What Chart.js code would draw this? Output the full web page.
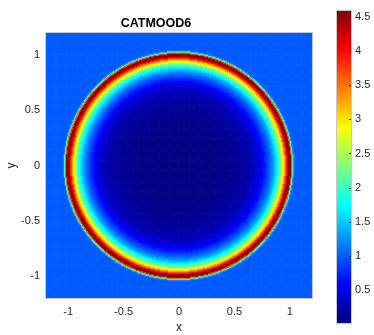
<!DOCTYPE html>
<html>
<head>
<meta charset="utf-8">
<script src="https://cdn.jsdelivr.net/npm/chart.js@4/dist/chart.umd.min.js"></script>
<style>
  html, body { margin: 0; padding: 0; background: #ffffff; }
  #wrap { position: relative; width: 374px; height: 335px; }
  #main { position: absolute; left: 0; top: 0; }
  #cbar { position: absolute; left: 320px; top: 0; }
</style>
</head>
<body>
<div id="wrap">
  <canvas id="main" width="374" height="335"></canvas>
  <canvas id="cbar" width="54" height="335"></canvas>
</div>
<script>
// ---- values ----
const title = "CATMOOD6";
const xTicks = [-1, -0.5, 0, 0.5, 1];
const yTicks = [-1, -0.5, 0, 0.5, 1];
const cbarTicks = [0.5, 1, 1.5, 2, 2.5, 3, 3.5, 4, 4.5];
const axisMin = -1.2, axisMax = 1.2;
const colorMin = 0.02, colorMax = 4.59;
// radial profile of the field (radius from origin -> value)
const profileR = [0, 0.05, 0.1, 0.15, 0.2, 0.25, 0.3, 0.35, 0.4, 0.45, 0.5, 0.55, 0.6, 0.65, 0.7,
  0.72, 0.74, 0.76, 0.78, 0.80, 0.82, 0.84,
  0.85, 0.86, 0.87, 0.88, 0.89, 0.90, 0.91, 0.92, 0.93, 0.94, 0.95, 0.96, 0.97, 0.98, 0.99,
  1.00, 1.01, 1.02, 1.03, 1.04, 1.05];
const profileV = [0.03, 0.03, 0.03, 0.03, 0.04, 0.04, 0.05, 0.06, 0.07, 0.09, 0.11, 0.14, 0.19, 0.25, 0.35,
  0.42, 0.5, 0.6, 0.72, 0.86, 1.0, 1.15,
  1.25, 1.35, 1.47, 1.6, 1.75, 1.9, 2.1, 2.3, 2.55, 2.8, 3.05, 3.35, 3.75, 4.15, 4.45,
  4.59, 4.5, 3.6, 2.0, 1.2, 1.0];
const backgroundValue = 1.0;
const gridStep = 0.01;

// ---- jet colormap ----
function jet(v) {
  let t = (v - colorMin) / (colorMax - colorMin);
  t = Math.max(0, Math.min(1, t));
  const c = x => Math.round(255 * Math.max(0, Math.min(1, x)));
  return `rgb(${c(1.5 - Math.abs(4 * t - 3))},${c(1.5 - Math.abs(4 * t - 2))},${c(1.5 - Math.abs(4 * t - 1))})`;
}
function valueAtRadius(r) {
  if (r > profileR[profileR.length - 1]) return backgroundValue;
  let best = 0, bd = Infinity;
  for (let i = 0; i < profileR.length; i++) {
    const d = Math.abs(profileR[i] - r);
    if (d < bd) { bd = d; best = i; }
  }
  return profileV[best];
}

// ---- grid cells ----
const n = Math.round((axisMax - axisMin) / gridStep) + 1;
const cells = [];
for (let i = 0; i < n; i++) {
  const x = +(axisMin + i * gridStep).toFixed(4);
  for (let j = 0; j < n; j++) {
    const y = +(axisMin + j * gridStep).toFixed(4);
    const v = valueAtRadius(Math.sqrt(x * x + y * y));
    cells.push({ x: x, y: y, v: v, c: jet(v) });
  }
}

const FONT = "'Liberation Sans', Arial, Helvetica, sans-serif";
const tickColor = '#262626';

const boxPlugin = {
  id: 'box',
  afterDatasetsDraw(chart) {
    const a = chart.chartArea, ctx = chart.ctx;
    ctx.save();
    ctx.strokeStyle = '#c8c8c8';
    ctx.lineWidth = 1;
    ctx.strokeRect(Math.round(a.left) - 0.5, Math.round(a.top) - 0.5,
      Math.round(a.right - a.left) + 1, Math.round(a.bottom - a.top) + 1);
    ctx.restore();
  }
};

new Chart(document.getElementById('main'), {
  type: 'scatter',
  data: {
    datasets: [{
      data: cells,
      pointStyle: 'rect',
      pointRadius: (ctx) => {
        const sc = ctx.chart.scales.x;
        const px = Math.abs(sc.getPixelForValue(gridStep) - sc.getPixelForValue(0));
        return (px + 0.6) / Math.SQRT2;
      },
      pointBorderWidth: 0,
      pointBackgroundColor: (ctx) => ctx.raw ? ctx.raw.c : '#000',
      clip: 0
    }]
  },
  options: {
    responsive: false,
    animation: false,
    events: [],
    parsing: false,
    normalized: true,
    layout: { padding: { left: 0, right: 62, top: 0, bottom: 0 } },
    plugins: {
      legend: { display: false },
      tooltip: { enabled: false },
      title: {
        display: true, text: title, color: '#000',
        font: { family: FONT, size: 12.5, weight: 'bold', lineHeight: 1.2 },
        padding: { top: 16, bottom: 2 }
      }
    },
    scales: {
      x: {
        type: 'linear', min: axisMin, max: axisMax,
        afterFit: (s) => { s.height = 37; },
        afterBuildTicks: (s) => { s.ticks = xTicks.map(v => ({ value: v })); },
        grid: { display: false, drawTicks: false },
        border: { display: false },
        ticks: { color: tickColor, padding: 7, font: { family: FONT, size: 11 }, callback: v => String(v), autoSkip: false, maxRotation: 0 },
        title: { display: true, text: 'x', color: tickColor, font: { family: FONT, size: 12 }, padding: { top: 0, bottom: 0 } }
      },
      y: {
        type: 'linear', min: axisMin, max: axisMax,
        afterFit: (s) => { s.width = 46; },
        afterBuildTicks: (s) => { s.ticks = yTicks.map(v => ({ value: v })); },
        grid: { display: false, drawTicks: false },
        border: { display: false },
        ticks: { color: tickColor, padding: 6, font: { family: FONT, size: 11 }, callback: v => String(v), autoSkip: false },
        title: { display: true, text: 'y', color: tickColor, font: { family: FONT, size: 12 }, padding: { top: 4, bottom: 0 } }
      }
    }
  },
  plugins: [boxPlugin]
});

// ---- colorbar ----
const cbarPlugin = {
  id: 'cbarTicks',
  afterDatasetsDraw(chart) {
    const a = chart.chartArea, ctx = chart.ctx, ys = chart.scales.y;
    ctx.save();
    ctx.strokeStyle = '#c8c8c8';
    ctx.lineWidth = 1;
    ctx.strokeRect(Math.round(a.left) - 0.5, Math.round(a.top) - 0.5,
      Math.round(a.right - a.left) + 1, Math.round(a.bottom - a.top) + 1);
    ctx.strokeStyle = '#262626';
    ctx.beginPath();
    cbarTicks.forEach(v => {
      const y = Math.round(ys.getPixelForValue(v)) + 0.5;
      ctx.moveTo(a.right - 2, y); ctx.lineTo(a.right, y);
    });
    ctx.stroke();
    ctx.restore();
  }
};

new Chart(document.getElementById('cbar'), {
  type: 'bar',
  data: {
    labels: ['c'],
    datasets: [{
      data: [[colorMin, colorMax]],
      barPercentage: 1, categoryPercentage: 1, borderWidth: 0,
      backgroundColor: (ctx) => {
        const ch = ctx.chart, ys = ch.scales.y;
        if (!ys || !ch.chartArea) return jet(1);
        const g = ch.ctx.createLinearGradient(0, ys.getPixelForValue(colorMin), 0, ys.getPixelForValue(colorMax));
        for (let k = 0; k <= 64; k++) {
          const t = k / 64;
          g.addColorStop(t, jet(colorMin + t * (colorMax - colorMin)));
        }
        return g;
      }
    }]
  },
  options: {
    responsive: false,
    animation: false,
    events: [],
    layout: { padding: { left: 17, right: 0, top: 7, bottom: 12 } },
    plugins: { legend: { display: false }, tooltip: { enabled: false }, title: { display: false } },
    scales: {
      x: { display: false },
      y: {
        position: 'right', min: colorMin, max: colorMax,
        afterFit: (s) => { s.width = 23; },
        afterBuildTicks: (s) => { s.ticks = cbarTicks.map(v => ({ value: v })); },
        grid: { display: false, drawTicks: false },
        border: { display: false },
        ticks: { color: tickColor, padding: 4, font: { family: FONT, size: 11 }, callback: v => String(v), autoSkip: false }
      }
    }
  },
  plugins: [cbarPlugin]
});
</script>
</body>
</html>
